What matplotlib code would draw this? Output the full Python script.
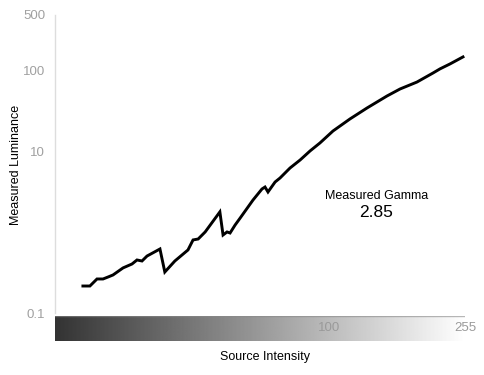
import numpy as np
import matplotlib
matplotlib.use("Agg")
import matplotlib.pyplot as plt

plt.rcParams['font.family'] = ['Liberation Sans', 'DejaVu Sans']

# Data
source_intensity = [0.5, 0.84, 1.29, 1.76, 2.21, 2.73, 3.95, 5.27, 6.09, 6.99, 7.96,
                    10.8, 12.0, 14.7, 18.7, 20.4, 22.2, 24.8, 30.8, 32.2, 34.0, 35.4,
                    37.8, 40.3, 47.1, 52.2, 54.0, 55.8, 60.2, 63.4, 70.1, 77.3, 84.8,
                    92.6, 103.5, 118.8, 135.3, 156.3, 170.9, 191.0, 211.2, 220.4,
                    233.9, 252.1]
luminance = [0.216, 0.216, 0.264, 0.264, 0.279, 0.296, 0.362, 0.405, 0.454, 0.441, 0.508,
             0.621, 0.322, 0.441, 0.604, 0.804, 0.826, 1.01, 1.79, 0.926, 1.01, 0.98,
             1.23, 1.50, 2.51, 3.44, 3.64, 3.16, 4.20, 4.71, 6.26, 7.87, 10.2,
             12.8, 18.0, 25.4, 34.7, 48.9, 59.7, 72.8, 94.2, 106, 122, 149]
y_ticks = [0.1, 10, 100, 500]
y_tick_labels = ["0.1", "10", "100", "500"]
x_ticks = [100, 255]
x_tick_labels = ["100", "255"]
gamma_label = "Measured Gamma"
gamma_value = "2.85"

W, H = 484, 375
fig = plt.figure(figsize=(W / 100, H / 100), dpi=100)

def fx(px):
    return px / W

def fy(py):
    return 1 - py / H

# gradient bar (behind)
bar_ax = fig.add_axes([fx(55), fy(341.5), fx(465) - fx(55), fy(315.5) - fy(341.5)])
grad = np.linspace(0.2, 1.0, 512).reshape(1, -1)
bar_ax.imshow(grad, cmap='gray', vmin=0, vmax=1, aspect='auto', extent=(0, 1, 0, 1))
bar_ax.axhline(1, color='#888888', lw=1.0, alpha=0.6)
bar_ax.set_xlim(0, 1)
bar_ax.set_ylim(0, 1)
bar_ax.axis('off')
bar_ax.set_zorder(0)

# main axes
p = 0.431
def fwd(x):
    return np.power(np.clip(x, 0, None) / 255.0, p)
def inv(u):
    return 255.0 * np.power(np.clip(u, 0, None), 1 / p)

ax = fig.add_axes([fx(55), fy(313), fx(465) - fx(55), fy(14.5) - fy(313)])
ax.set_zorder(1)
ax.patch.set_alpha(0)
ax.set_xscale('function', functions=(fwd, inv))
ax.set_yscale('log')
ax.set_xlim(0, 255)
ax.set_ylim(0.1, 500)

ax.plot(source_intensity, luminance, color='black', lw=2.1, solid_joinstyle='miter')

for s in ['top', 'right', 'bottom']:
    ax.spines[s].set_visible(False)
ax.spines['left'].set_color('#dddddd')
ax.spines['left'].set_linewidth(1)

ax.yaxis.set_major_locator(matplotlib.ticker.FixedLocator(y_ticks))
ax.yaxis.set_minor_locator(matplotlib.ticker.NullLocator())
ax.set_yticklabels(y_tick_labels)
ax.tick_params(axis='y', length=0, pad=7, labelsize=9.5, labelcolor='#a0a0a0')

ax.xaxis.set_major_locator(matplotlib.ticker.FixedLocator(x_ticks))
ax.xaxis.set_minor_locator(matplotlib.ticker.NullLocator())
ax.set_xticklabels(x_tick_labels)
ax.tick_params(axis='x', length=0, pad=6.5, labelsize=9.5, labelcolor='#9a9a9a')

fig.text(fx(16), fy(165), "Measured Luminance", rotation=90, ha='center', va='center',
         fontsize=9, color='black')
fig.text(fx(265), fy(357), "Source Intensity", ha='center', va='center',
         fontsize=9, color='black')
fig.text(fx(377), fy(196), gamma_label, ha='center', va='center', fontsize=9, color='black')
fig.text(fx(376), fy(213), gamma_value, ha='center', va='center', fontsize=12.5, color='black')

fig.savefig("out.png", dpi=100)
